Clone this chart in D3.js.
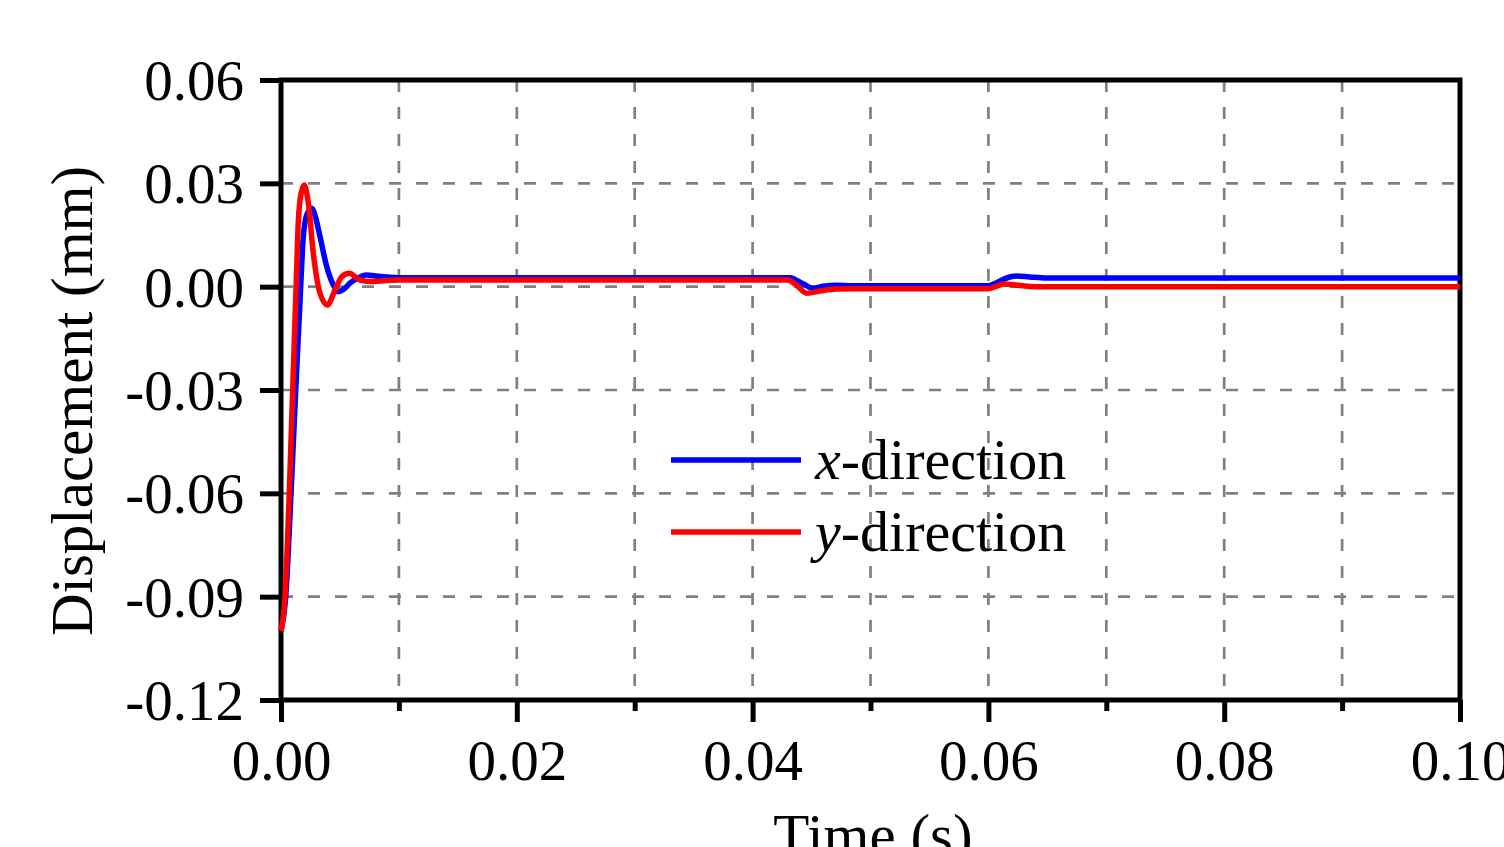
<!DOCTYPE html>
<html><head><meta charset="utf-8">
<script src="https://cdn.jsdelivr.net/npm/d3@7"></script>
<style>body{margin:0;background:#fff}svg{display:block}text{font-family:"Liberation Serif","Times New Roman",serif;fill:#000}</style>
</head><body><svg id="c" width="1504" height="847"></svg>
<script>
const xTicks = [0, 0.02, 0.04, 0.06, 0.08, 0.10];
const xMinor = [0.01, 0.03, 0.05, 0.07, 0.09];
const yTicks = [-0.12, -0.09, -0.06, -0.03, 0, 0.03, 0.06];
const seriesNames = ["x", "y"];
const blueT = [0,0.0004,0.00085,0.00125,0.00155,0.00167,0.00189,0.0022,0.0026,0.0029,0.00331,0.00388,0.00444,0.00486,0.0053,0.00585,0.0065,0.00727,0.008,0.009,0.010,0.020,0.030,0.040,0.0432,0.0438,0.0444,0.0451,0.046,0.0471,0.0485,0.050,0.055,0.0600,0.0606,0.0613,0.0624,0.0635,0.065,0.070,0.080,0.090,0.100];
const blueV = [-0.100,-0.090,-0.060,-0.030,-0.0087,0,0.0145,0.021,0.0228,0.0205,0.0145,0.0058,0.0005,-0.0015,-0.0008,0.001,0.0025,0.0034,0.0031,0.0028,0.0026,0.0026,0.0026,0.0026,0.0026,0.0017,0.0006,-0.0004,0.0001,0.0004,0.0003,0.0003,0.0003,0.0003,0.0010,0.0022,0.0031,0.0028,0.0025,0.0025,0.0025,0.0025,0.0025];
const redT = [0,0.00034,0.0007,0.00099,0.00128,0.00147,0.0017,0.00198,0.00232,0.00274,0.00331,0.00393,0.00458,0.00515,0.0058,0.0067,0.00755,0.009,0.010,0.02,0.03,0.04,0.0430,0.0437,0.0446,0.0458,0.0471,0.049,0.055,0.0599,0.0606,0.0613,0.0625,0.064,0.070,0.08,0.09,0.1];
const redV = [-0.100,-0.090,-0.060,-0.030,0,0.019,0.027,0.0295,0.0242,0.0097,-0.0019,-0.0053,-0.001,0.0029,0.0039,0.0019,0.0015,0.0018,0.0019,0.0019,0.0019,0.0019,0.0019,0.0005,-0.0019,-0.0012,-0.0007,-0.0006,-0.0006,-0.0006,0.0000,0.0008,0.0004,0.0000,0,0,0,0];

const svg = d3.select("#c");
const L = 281, R = 1460, T = 80, B = 700;
const x = d3.scaleLinear().domain([0, 0.10]).range([L, R]);
const y = d3.scaleLinear().domain([-0.12, 0.06]).range([B, T]);
const fmt = d => d3.format(".2f")(d).replace("\u2212", "-");

// grid
const g = svg.append("g");
g.selectAll(".vg").data(xTicks.concat(xMinor).filter(d => d > 0 && d < 0.1)).join("line")
  .attr("x1", d => x(d)).attr("x2", d => x(d)).attr("y1", T).attr("y2", B)
  .attr("stroke", "#808080").attr("stroke-width", 2.7).attr("stroke-dasharray", "12,15");
g.selectAll(".hg").data(yTicks.filter(d => d > -0.12 && d < 0.06)).join("line")
  .attr("x1", L).attr("x2", R).attr("y1", d => y(d)).attr("y2", d => y(d))
  .attr("stroke", "#808080").attr("stroke-width", 2.7).attr("stroke-dasharray", "12,15");

// axes
const xAxis = d3.axisBottom(x).tickValues(xTicks).tickFormat(fmt).tickSize(22).tickPadding(18);
const xa = svg.append("g").attr("transform", `translate(0,${B})`).call(xAxis);
const xAxisMinor = d3.axisBottom(x).tickValues(xMinor).tickFormat("").tickSize(11);
const xm = svg.append("g").attr("transform", `translate(0,${B})`).call(xAxisMinor);
const yAxis = d3.axisLeft(y).tickValues(yTicks).tickFormat(fmt).tickSize(21).tickPadding(16);
const ya = svg.append("g").attr("transform", `translate(${L},0)`).call(yAxis);
[xa, xm, ya].forEach(a => {
  a.select(".domain").remove();
  a.selectAll(".tick line").attr("stroke", "#000").attr("stroke-width", 5);
  a.selectAll("text").style("font-size", "57px").style("font-family", '"Liberation Serif",serif').attr("fill", "#000");
});
xa.selectAll("text").attr("dy", "0.71em");
ya.selectAll("text").attr("dy", "0.34em");

// frame
svg.append("rect").attr("x", L).attr("y", T).attr("width", R - L).attr("height", B - T)
  .attr("fill", "none").attr("stroke", "#000").attr("stroke-width", 5);

// curves
const line = d3.line().x(d => x(d[0])).y(d => y(d[1])).curve(d3.curveMonotoneX);
const blue = blueT.map((t, i) => [t, blueV[i]]);
const red = redT.map((t, i) => [t, redV[i]]);
svg.append("path").datum(blue).attr("d", line).attr("fill", "none").attr("stroke", "#0000ff").attr("stroke-width", 5.5).attr("stroke-linejoin", "round");
svg.append("path").datum(red).attr("d", line).attr("fill", "none").attr("stroke", "#ff0000").attr("stroke-width", 5.5).attr("stroke-linejoin", "round");

// legend
const leg = [{n: seriesNames[0], c: "#0000ff", y: 460}, {n: seriesNames[1], c: "#ff0000", y: 532}];
leg.forEach(l => {
  svg.append("line").attr("x1", 671).attr("x2", 801).attr("y1", l.y).attr("y2", l.y).attr("stroke", l.c).attr("stroke-width", 5.5);
  const t = svg.append("text").attr("x", 815).attr("y", l.y + 19).style("font-size", "58px");
  t.append("tspan").style("font-style", "italic").text(l.n);
  t.append("tspan").text("-direction");
});

// titles
svg.append("text").attr("x", 873).attr("y", 855).attr("text-anchor", "middle").style("font-size", "59px").text("Time (s)");
svg.append("text").attr("transform", "translate(92,401) rotate(-90)").attr("text-anchor", "middle").style("font-size", "59px").text("Displacement (mm)");
</script></body></html>
